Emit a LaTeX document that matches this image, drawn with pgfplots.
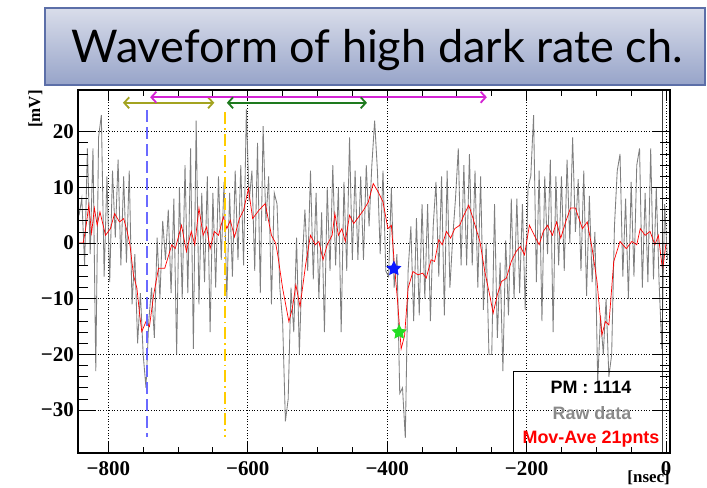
\documentclass[border=0pt]{standalone}
\usepackage{fontspec}
\setmainfont{Liberation Serif}
\newfontfamily\titlefont{Lato}
\newfontfamily\legfont{Liberation Sans}
\usepackage{pgfplots}
\pgfplotsset{compat=1.18}
\usetikzlibrary{arrows.meta}
\definecolor{rawgray}{HTML}{7F7F7F}
\definecolor{leggray}{HTML}{8A8A8A}
\definecolor{blueline}{HTML}{6A6AFF}
\definecolor{goldline}{HTML}{FFCC00}
\definecolor{olivearr}{HTML}{A3A320}
\definecolor{magarr}{HTML}{D424D4}
\definecolor{greenarr}{HTML}{1E7A1E}
\definecolor{starblue}{HTML}{0A1AFF}
\definecolor{stargreen}{HTML}{22DD22}
\definecolor{boxtop}{HTML}{D9DDEA}
\definecolor{boxbot}{HTML}{97A4C9}
\definecolor{boxline}{HTML}{5C6FA8}
\pgfdeclareplotmark{fstar}{%
 \pgfpathmoveto{\pgfpoint{0pt}{\pgfplotmarksize}}%
 \pgfpathlineto{\pgfpoint{-0.294\pgfplotmarksize}{0.405\pgfplotmarksize}}%
 \pgfpathlineto{\pgfpoint{-0.951\pgfplotmarksize}{0.309\pgfplotmarksize}}%
 \pgfpathlineto{\pgfpoint{-0.476\pgfplotmarksize}{-0.155\pgfplotmarksize}}%
 \pgfpathlineto{\pgfpoint{-0.588\pgfplotmarksize}{-0.809\pgfplotmarksize}}%
 \pgfpathlineto{\pgfpoint{0pt}{-0.5\pgfplotmarksize}}%
 \pgfpathlineto{\pgfpoint{0.588\pgfplotmarksize}{-0.809\pgfplotmarksize}}%
 \pgfpathlineto{\pgfpoint{0.476\pgfplotmarksize}{-0.155\pgfplotmarksize}}%
 \pgfpathlineto{\pgfpoint{0.951\pgfplotmarksize}{0.309\pgfplotmarksize}}%
 \pgfpathlineto{\pgfpoint{0.294\pgfplotmarksize}{0.405\pgfplotmarksize}}%
 \pgfpathclose\pgfusepathqfill}
\begin{document}
\begin{tikzpicture}[x=1bp,y=1bp]
\useasboundingbox (0,0) rectangle (707,488);
\fill[white] (0,0) rectangle (707,488);
% title box
\draw[top color=boxtop, bottom color=boxbot, draw=boxline, line width=1.2bp] (45,403) rectangle (705,480);
\node[anchor=base, inner sep=0pt] at (377.5,425) {\resizebox{611bp}{!}{\titlefont Waveform of high dark rate ch.}};

\begin{axis}[
  at={(78bp,35bp)}, anchor=south west, scale only axis,
  width=592bp, height=363bp,
  xmin=-843.5, xmax=5.7, ymin=-37.7, ymax=27.5,
  xtick={-800,-600,-400,-200,0},
  xticklabels={−800,−600,−400,−200,0},
  minor x tick num=3,
  ytick={-30,-20,-10,0,10,20},
  yticklabels={},
  grid=major,
  major grid style={black, line width=0.6bp, dash pattern=on 0.8bp off 2bp},
  tick align=inside,
  major tick length=11bp, minor tick length=6bp,
  every tick/.style={black, line width=0.9bp},
  axis line style={black, line width=1.3bp},
  xticklabel style={font=\fontsize{21}{24}\selectfont\bfseries, anchor=north, inner sep=0pt, yshift=-8.5bp},
]
% raw data
\addplot[rawgray, line width=0.85bp] coordinates {
(-842,5) (-838,8) (-834,-4) (-830,17) (-826,-2) (-822,17) (-818,-23) (-814,19) (-810,23) (-806,-6)
(-802,12) (-798,-7) (-794,13) (-790,1) (-786,15) (-782,-4) (-778,12) (-774,-3.5) (-770,13) (-766,-11)
(-762,-2) (-758,-18) (-754,-9) (-750,-20) (-746,-26) (-742,-14) (-738,-8) (-734,-17) (-730,1) (-726,-10)
(-722,4) (-718,-3) (-714,6) (-710,-9) (-706,8) (-702,-20) (-698,10) (-694,-10) (-690,14) (-686,-9)
(-682,17) (-678,-19) (-674,22) (-670,-11) (-666,9) (-662,-7) (-658,12) (-654,-16) (-650,9) (-646,-8)
(-642,12) (-638,-3) (-634,11) (-630,-10) (-626,9) (-622,-6) (-618,13) (-614,-3) (-610,14) (-606,-4)
(-602,24) (-598,7.5) (-594,13) (-590,-5) (-586,18) (-582,-9) (-578,21) (-574,4) (-570,12) (-566,-11)
(-562,9) (-558,7) (-554,-8) (-550,-14) (-546,-32) (-542,-28) (-538,-8) (-534,-16) (-530,1) (-526,-20)
(-522,-4) (-518,6) (-514,-5) (-510,13) (-506,-6.5) (-502,9) (-498,-10) (-494,5.5) (-490,-16) (-486,10)
(-482,-5) (-478,14) (-474,-4) (-470,10) (-466,-16) (-462,11) (-458,-5) (-454,19) (-450,-3) (-446,13)
(-442,-3) (-438,12) (-434,-3) (-430,14) (-426,3) (-422,14) (-418,22) (-414,13) (-410,-2) (-406,13)
(-402,-5) (-398,-6) (-394,10) (-390,-8) (-386,-2) (-382,-27) (-378,-26) (-374,-35) (-370,-5) (-366,3)
(-362,-14) (-358,4.5) (-354,-13) (-350,7) (-346,-10) (-342,7) (-338,-14) (-334,3) (-330,11) (-326,-6)
(-322,12) (-318,-13) (-314,13) (-310,-8) (-306,1) (-302,8) (-298,17) (-294,-4) (-290,14) (-286,-4)
(-282,16) (-278,-4) (-274,13) (-270,-8) (-266,12) (-262,-12) (-258,0) (-254,-20) (-250,-20) (-246,7)
(-242,-17) (-238,-3.5) (-234,-23) (-230,0.5) (-226,-13) (-222,8) (-218,-10) (-214,8) (-210,-9) (-206,7)
(-202,-12) (-198,10) (-194,12) (-190,23) (-186,-7) (-182,13) (-178,-14) (-174,12) (-170,-2) (-166,15)
(-162,-16) (-158,12) (-154,-4) (-150,12) (-146,-5) (-142,15) (-138,0) (-134,19) (-130,2) (-126,11.5)
(-122,-5) (-118,13) (-114,-9.5) (-110,8.5) (-106,-7) (-102,2) (-98,-25) (-94,-13) (-90,-20) (-86,-10)
(-82,-24) (-78,-20) (-74,3) (-70,13) (-66,16) (-62,-6) (-58,8) (-54,-10) (-50,11) (-46,-6)
(-42,14) (-38,17) (-34,-8) (-30,9) (-26,-7) (-22,17) (-18,-6.5) (-14,10) (-10,-7) (-6,-19)
(-2,7) (2,-3)
};
% moving average
\addplot[red, line width=0.7bp] coordinates {
(-843,0) (-836,0) (-832,3) (-828,6.8) (-824,1.8) (-820,6.3) (-816,3.2) (-812,5.6) (-804,1.4) (-797,2.6)
(-791,5.3) (-784,3.8) (-778,4.4) (-773,2.1) (-769,-0.3) (-764,-5.7) (-759,-8.1) (-755,-12.9) (-752,-15.9) (-746,-14.1)
(-741,-15) (-735,-9.3) (-728,-4.5) (-719,-4.5) (-709,-0.3) (-704,-1) (-695,3.2) (-688,-1.5) (-681,2.1) (-676,-0.3)
(-670,6.3) (-664,1.4) (-659,2.9) (-654,-1) (-648,2.1) (-642,1.4) (-635,4.7) (-630,2.6) (-625,4.1) (-619,1.1)
(-612,4.4) (-606,5.9) (-599,9.8) (-593,4.4) (-584,5.9) (-575,7.1) (-566,1.4) (-560,0) (-557,-2.1) (-550,-8.1)
(-541,-14.1) (-536,-11.7) (-531,-7.5) (-525,-11.4) (-517,-3.9) (-510,1.4) (-503,-0.3) (-498,0.3) (-492,-3) (-486,-0.3)
(-479,1.4) (-475,5.3) (-470,1.4) (-465,2.6) (-460,0.3) (-454,5) (-448,3.5) (-441,4.7) (-434,5.9) (-427,7.4)
(-420,10.7) (-413,9.2) (-406,7.4) (-399,2.6) (-394,3.2) (-389,-4.9) (-385,-10.6) (-380,-19) (-375,-16.6) (-370,-8.1)
(-363,-5.1) (-356,-5.7) (-349,-5.4) (-344,-6.3) (-337,-3) (-332,-3.3) (-326,0.6) (-321,-0.3) (-315,2.1) (-309,0.9)
(-303,2.6) (-296,3.2) (-290,5) (-283,6.8) (-277,4.5) (-274,3.2) (-267,0.3) (-260,-5.1) (-253,-9.3) (-248,-12.6)
(-242,-9.3) (-236,-6.9) (-229,-6.3) (-222,-3.3) (-215,-1.5) (-209,-0.6) (-203,-2.1) (-196,3.2) (-189,1.4) (-182,-0.3)
(-176,2.1) (-170,3.2) (-163,1.4) (-157,3.8) (-151,0.9) (-144,3.8) (-137,6.3) (-130,6.3) (-120,2.6) (-113,3.8)
(-106,-1) (-99,-6.9) (-92,-16.5) (-87,-14.1) (-82,-14.7) (-75,-3.3) (-66,0.3) (-57,-1) (-49,0.3) (-42,-0.3)
(-37,2.6) (-30,1.4) (-23,2.1) (-16,-0.3) (-11,1.4) (-5,-4.9) (0,0)
};
% vertical markers
\addplot[blueline, line width=1.8bp, dash pattern=on 12bp off 5bp] coordinates {(-745,23.9) (-745,-34.8)};
\addplot[goldline, line width=1.8bp, dash pattern=on 12bp off 4bp on 1.5bp off 4bp] coordinates {(-632.6,23.5) (-632.6,-34.8)};
\addplot[black!75, line width=0.8bp] coordinates {(-4.7,-37.7) (-4.7,27.5)};
% arrows
\addplot[olivearr, line width=1.8bp, {Straight Barb[length=5bp,width=11bp]}-{Straight Barb[length=5bp,width=11bp]}] coordinates {(-779,25.2) (-648,25.2)};
\addplot[magarr, line width=1.8bp, {Straight Barb[length=5bp,width=11bp]}-{Straight Barb[length=5bp,width=11bp]}] coordinates {(-740,26.2) (-257,26.2)};
\addplot[greenarr, line width=1.8bp, {Straight Barb[length=5bp,width=11bp]}-{Straight Barb[length=5bp,width=11bp]}] coordinates {(-630,25.2) (-429,25.2)};
% stars
\addplot[only marks, mark=fstar, mark size=8bp, color=starblue] coordinates {(-390.4,-4.6)};
\addplot[only marks, mark=fstar, mark size=8bp, color=stargreen] coordinates {(-382.8,-16.0)};
\end{axis}

\begin{axis}[
  at={(78bp,35bp)}, anchor=south west, scale only axis,
  width=592bp, height=363bp,
  xmin=-843.5, xmax=5.7, ymin=-37.7, ymax=27.5,
  xtick=\empty,
  ytick={-30,-20,-10,0,10,20},
  yticklabels={−30,−20,−10,0,10,20},
  minor y tick num=4,
  tick align=inside,
  major tick length=18bp, minor tick length=10bp,
  every tick/.style={black, line width=0.9bp},
  axis line style={black, line width=1.3bp},
  yticklabel style={font=\fontsize{21}{24}\selectfont\bfseries, anchor=east, inner sep=0pt, xshift=-4bp},
]
\end{axis}

% legend
\draw[black, line width=1bp] (513,35) rectangle (670,116);
\node[anchor=base, inner sep=0pt, font=\legfont\bfseries\fontsize{18}{20}\selectfont] at (591,94.7) {PM : 1114};
\node[anchor=base, inner sep=0pt, text=leggray, font=\legfont\bfseries\fontsize{18}{20}\selectfont] at (592,68) {Raw data};
\node[anchor=base, inner sep=0pt, text=red, font=\legfont\bfseries\fontsize{18}{20}\selectfont] at (591,44) {Mov-Ave 21pnts};
% axis titles
\node[anchor=base east, inner sep=0pt, font=\bfseries\fontsize{17}{20}\selectfont] at (670,5) {[nsec]};
\node[rotate=90, anchor=base east, inner sep=0pt, font=\bfseries\fontsize{17}{20}\selectfont] at (40,398) {[mV]};
\end{tikzpicture}
\end{document}
